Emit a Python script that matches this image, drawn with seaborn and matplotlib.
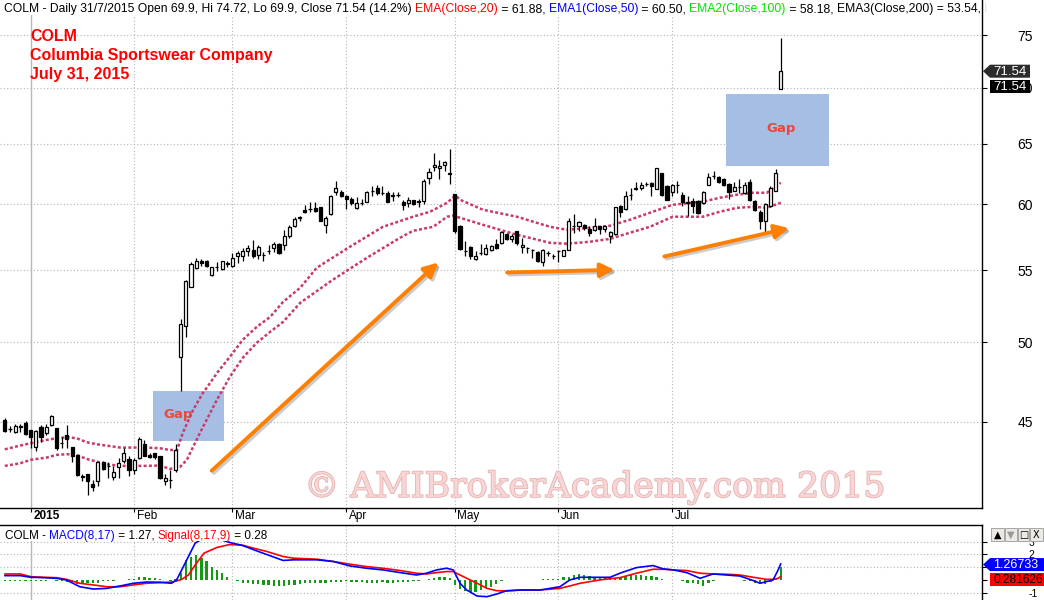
import numpy as np
import pandas as pd
import matplotlib
matplotlib.use("Agg")
import matplotlib.pyplot as plt
import matplotlib.patheffects as pe
from matplotlib.patches import Rectangle, Polygon
from matplotlib.transforms import ScaledTranslation
from matplotlib.ticker import NullLocator
import seaborn as sns

# ---- daily bars: bar 0 = 24 Dec 2014 ... bar 150 = 31 Jul 2015 ----
opens = [45.12, 44.60, 44.42, 44.74, 44.92, 44.53, 43.52, 44.69, 44.33, 44.82,
         44.63, 43.77, 44.23, 43.55, 43.10, 41.88, 42.00, 41.47, 41.64, 42.66,
         42.48, 41.85, 42.42, 42.75, 42.82, 42.22, 42.88, 43.70, 43.08, 43.16,
         43.03, 41.60, 41.68, 42.22, 49.00, 51.11, 53.82, 55.15, 55.70, 55.70,
         54.66, 55.24, 55.08, 55.55, 55.33, 56.05, 56.07, 56.40, 56.50, 56.12,
         56.14, 56.44, 56.62, 56.92, 56.88, 57.50, 58.32, 59.00, 59.57, 59.64,
         59.67, 59.77, 58.40, 59.23, 60.98, 60.98, 60.63, 60.42, 59.70, 60.12,
         60.22, 61.05, 61.30, 60.92, 60.90, 60.76, 60.78, 60.22, 60.10, 60.33,
         60.24, 60.28, 62.12, 63.00, 62.98, 63.22, 62.50, 60.84, 58.34, 56.44,
         56.70, 55.83, 56.27, 56.18, 56.45, 56.92, 57.00, 57.68, 57.33, 57.93,
         56.70, 56.64, 56.47, 56.32, 55.58, 56.27, 56.02, 56.39, 56.07, 56.50,
         58.29, 58.27, 58.40, 58.06, 58.01, 58.27, 58.06, 57.57, 57.68, 59.90,
         59.65, 60.78, 61.23, 61.30, 61.64, 61.71, 61.26, 62.53, 61.43, 60.98,
         61.54, 60.76, 60.10, 60.30, 60.30, 60.10, 61.57, 62.27, 62.20, 62.05,
         61.62, 61.10, 61.37, 60.94, 61.80, 60.30, 59.37, 58.72, 59.87, 61.10,
         69.90]
highs = [45.22, 44.78, 44.88, 44.88, 45.08, 44.53, 44.53, 44.82, 44.88, 45.42,
         44.66, 44.10, 44.82, 43.55, 43.10, 42.00, 42.00, 41.66, 42.70, 42.73,
         42.70, 42.46, 42.88, 43.46, 43.00, 42.88, 44.10, 43.94, 43.20, 43.20,
         43.03, 42.00, 42.22, 43.69, 51.55, 54.30, 55.58, 55.88, 55.80, 55.75,
         55.26, 55.58, 55.68, 55.70, 56.25, 56.42, 56.62, 56.82, 57.25, 56.82,
         56.30, 56.88, 57.05, 57.00, 58.01, 58.40, 59.00, 59.05, 59.96, 60.22,
         60.22, 59.82, 59.05, 60.76, 61.90, 61.17, 60.76, 60.58, 60.58, 60.42,
         61.03, 61.43, 61.52, 61.43, 61.03, 60.98, 60.98, 60.36, 60.58, 60.36,
         60.42, 62.06, 62.95, 64.20, 63.58, 63.55, 64.55, 60.84, 58.40, 57.12,
         56.80, 56.37, 56.92, 56.92, 56.88, 57.33, 57.88, 57.76, 57.68, 57.93,
         57.38, 56.67, 56.55, 56.37, 56.55, 56.37, 56.18, 56.50, 56.50, 58.92,
         59.23, 58.70, 58.45, 58.27, 58.92, 58.34, 58.27, 57.93, 59.82, 59.96,
         61.03, 61.30, 61.76, 61.76, 61.80, 61.76, 62.95, 62.53, 61.52, 61.62,
         61.85, 60.98, 60.68, 60.50, 60.36, 61.03, 62.53, 62.66, 62.31, 62.12,
         61.71, 61.76, 62.05, 61.76, 62.00, 60.36, 59.51, 60.10, 61.50, 62.88,
         74.72]
lows = [44.42, 44.42, 44.33, 44.42, 44.23, 43.46, 43.30, 43.83, 44.23, 44.78,
        43.36, 43.46, 43.46, 42.70, 41.90, 41.60, 40.83, 41.05, 41.33, 42.22,
        41.80, 41.66, 41.80, 42.60, 41.90, 42.00, 42.85, 43.03, 42.88, 42.82,
        41.75, 41.40, 41.23, 42.12, 46.88, 50.37, 53.80, 55.10, 55.30, 55.22,
        54.60, 54.90, 55.02, 55.22, 55.26, 55.51, 55.70, 56.05, 55.88, 55.80,
        55.68, 56.18, 56.30, 56.18, 56.50, 57.40, 58.22, 58.65, 59.33, 59.37,
        59.37, 58.65, 57.76, 59.18, 60.76, 60.57, 59.62, 59.96, 59.65, 59.96,
        60.18, 60.63, 60.76, 60.76, 60.15, 60.28, 60.58, 59.51, 59.82, 59.96,
        59.82, 60.04, 61.62, 62.66, 62.05, 62.66, 61.62, 57.80, 56.45, 56.00,
        55.83, 55.76, 56.12, 56.12, 56.37, 56.55, 56.95, 57.20, 57.07, 56.88,
        56.25, 56.25, 55.92, 55.58, 55.33, 56.07, 55.83, 55.58, 56.00, 56.45,
        57.76, 57.88, 58.01, 57.50, 57.88, 57.70, 57.83, 57.00, 57.62, 59.00,
        59.57, 60.36, 61.17, 61.17, 61.43, 60.63, 61.20, 60.70, 60.36, 60.63,
        60.94, 59.87, 59.10, 59.35, 59.25, 60.02, 61.52, 62.05, 61.71, 61.50,
        60.42, 61.03, 60.90, 60.84, 60.30, 59.44, 58.10, 57.80, 59.82, 61.03,
        69.90]
closes = [44.49, 44.58, 44.76, 44.72, 44.27, 44.10, 44.47, 44.13, 44.69, 45.34,
          43.46, 43.75, 43.98, 43.03, 41.95, 41.86, 41.60, 41.27, 42.66, 42.26,
          42.46, 42.13, 42.60, 43.16, 42.22, 42.80, 43.98, 43.03, 42.95, 42.95,
          41.80, 41.78, 41.66, 43.36, 51.21, 54.23, 55.46, 55.63, 55.52, 55.31,
          55.22, 55.22, 55.63, 55.45, 55.92, 56.25, 56.42, 56.62, 56.00, 56.70,
          56.12, 56.42, 56.92, 56.25, 57.55, 58.22, 58.86, 58.92, 59.39, 59.62,
          59.46, 58.70, 58.92, 60.68, 61.30, 60.63, 60.42, 60.10, 60.10, 60.10,
          60.98, 61.03, 60.90, 60.90, 60.18, 60.63, 60.76, 59.96, 60.36, 60.02,
          60.22, 61.90, 62.61, 63.22, 63.14, 63.45, 62.47, 57.88, 56.55, 56.42,
          56.05, 56.00, 56.25, 56.62, 56.80, 56.62, 57.83, 57.33, 57.57, 57.00,
          56.88, 56.62, 56.45, 55.63, 56.45, 56.25, 56.00, 56.37, 56.50, 58.70,
          58.27, 58.60, 58.15, 57.80, 58.27, 58.06, 58.27, 57.83, 59.78, 59.39,
          60.63, 60.76, 61.30, 61.52, 61.62, 61.43, 62.95, 60.76, 60.36, 61.57,
          61.52, 60.22, 60.22, 59.90, 59.33, 60.98, 62.20, 62.25, 61.76, 61.57,
          60.98, 61.35, 61.35, 61.52, 60.36, 59.57, 58.70, 60.02, 61.30, 62.53,
          71.54]

# the two dotted average lines (upper / lower), sampled along the bars
ema_up_bar = [0, 2.9, 5, 8.1, 10, 12, 13.9, 15.8, 17.8, 19.7, 22.3, 24.8, 27.4, 30, 31.9,
              33.3, 34.4, 36.4, 38.3, 39.7, 41, 43.5, 46, 48.7, 51.3, 53.8, 57.1, 60.3, 66.7,
              73.1, 78.9, 82.2, 85.5, 86.6, 87.2, 88, 92.4, 99, 105.4, 108.7, 113.1, 117,
              120.8, 124.7, 129.1, 134.9, 138.2, 141.5, 144.6, 147.3, 150]
ema_up = [43.40, 43.61, 43.75, 43.94, 44.04, 44.10, 44.04, 43.81, 43.69, 43.61, 43.50,
          43.50, 43.50, 43.46, 43.36, 43.36, 44.35, 45.72, 46.76, 47.38, 48.00, 49.04,
          50.16, 51.02, 51.70, 52.74, 53.73, 55.17, 56.72, 58.24, 59.02, 59.41, 60.12,
          60.52, 60.68, 60.36, 59.57, 59.02, 58.24, 58.01, 58.16, 58.32, 58.78, 59.33,
          59.96, 60.20, 60.52, 60.76, 60.92, 60.92, 61.73]
ema_lo_bar = [0, 2.9, 5, 8.1, 10, 12, 13.9, 15.8, 17.8, 19.7, 22.3, 24.8, 27.4, 30, 31.9,
              33, 33.9, 35.2, 36.4, 38.3, 41, 43.5, 46, 48.7, 51.3, 53.8, 57.1, 63.4, 70,
              76.4, 78.9, 82.8, 85.5, 86.6, 88, 92.4, 99, 105.4, 108.7, 113.1, 117, 120.8,
              124.7, 129.1, 134.9, 138.2, 141.5, 144.6, 147.3, 150]
ema_lo = [42.46, 42.60, 42.80, 42.93, 43.08, 43.12, 43.08, 42.85, 42.70, 42.55, 42.46,
          42.46, 42.46, 42.48, 42.29, 42.35, 42.41, 42.80, 43.54, 44.70, 46.33, 47.76,
          48.98, 49.96, 50.69, 51.36, 52.67, 54.30, 55.90, 57.40, 57.93, 58.24, 59.02,
          59.10, 58.94, 58.40, 57.63, 57.02, 56.95, 57.10, 57.32, 57.78, 58.24, 59.02,
          59.02, 59.41, 59.72, 59.80, 59.72, 60.12]

# MACD(8,17) and signal(9), sampled along the bars; histogram one value per bar
macd_bar = [0, 3, 5, 7.6, 10, 11.9, 14.5, 17.1, 19.7, 22.3, 24.8, 27.4, 30, 32.2, 33.2,
            34.2, 35.5, 36.8, 38.5, 41, 43.5, 46, 48.1, 50.6, 53.8, 55.8, 60.3, 63.5, 66.7,
            69.9, 73.1, 76.4, 79.6, 81.5, 83.5, 85.4, 86.7, 88, 89.3, 91.3, 93.2, 95.1, 97,
            99.6, 103.4, 107.3, 109.2, 111.2, 115, 117, 118.9, 122.1, 125.3, 127.3, 129.2,
            131.8, 134.4, 136.9, 139.5, 142.1, 144.7, 146, 147.2, 148.5, 149.5, 150]
macd_val = [0.34, 0.34, 0.21, 0.18, 0.13, 0.0, -0.53, -0.71, -0.66, -0.47, -0.26, -0.16,
            -0.18, -0.26, 0.0, 0.79, 1.84, 2.89, 3.3, 3.25, 2.94, 2.7, 2.37, 2.0, 1.53, 1.58,
            1.58, 1.45, 1.1, 0.92, 0.79, 0.58, 0.39, 0.53, 0.79, 0.92, 0.79, -0.26, -0.79,
            -1.26, -1.31, -1.1, -0.84, -0.79, -0.79, -0.53, 0.0, 0.21, 0.21, 0.21, 0.53,
            0.97, 1.13, 0.87, 0.79, 0.58, 0.13, 0.47, 0.39, 0.31, -0.05, -0.26, -0.13, 0.0,
            0.79, 1.27]
signal_val = [0.47, 0.47, 0.26, 0.21, 0.18, 0.05, -0.26, -0.39, -0.53, -0.53, -0.39, -0.26,
              -0.21, -0.16, -0.08, 0.05, 0.39, 1.18, 2.1, 2.55, 2.78, 2.72, 2.49, 2.24, 1.84,
              1.71, 1.63, 1.45, 1.24, 1.05, 0.92, 0.74, 0.53, 0.47, 0.58, 0.66, 0.66, 0.39,
              0.13, -0.26, -0.66, -0.84, -0.87, -0.79, -0.79, -0.66, -0.47, -0.26, 0.0, 0.1,
              0.18, 0.53, 0.84, 0.84, 0.79, 0.74, 0.53, 0.47, 0.45, 0.39, 0.21, 0.13, 0.05,
              0.05, 0.13, 0.28]
hist = [-0.05, -0.06, -0.06, -0.08, -0.08, -0.1, -0.06, -0.05, -0.05, -0.04,
        -0.05, -0.1, -0.13, -0.16, -0.3, -0.34, -0.26, -0.26, -0.2, -0.1,
        -0.08, -0.05, -0.03, 0.02, 0.05, 0.1, 0.2, 0.2, 0.18, 0.15,
        0.05, 0.03, -0.05, 0.1, 0.53, 1.53, 1.84, 1.92, 1.71, 1.45,
        1.05, 0.79, 0.58, 0.21, 0.03, -0.1, -0.2, -0.26, -0.3, -0.34,
        -0.36, -0.4, -0.47, -0.5, -0.45, -0.4, -0.36, -0.3, -0.26, -0.26,
        -0.24, -0.2, -0.2, -0.16, -0.15, -0.13, -0.1, -0.13, -0.15, -0.18,
        -0.2, -0.2, -0.2, -0.18, -0.2, -0.2, -0.18, -0.15, -0.13, -0.1,
        -0.05, 0.03, 0.1, 0.18, 0.2, 0.2, 0.15, -0.4, -0.7, -0.87,
        -0.92, -0.92, -0.8, -0.66, -0.53, -0.31, -0.1, 0.0, 0.03, 0.0,
        0.0, 0.0, 0.02, 0.03, 0.04, 0.05, 0.05, 0.05, 0.21, 0.26,
        0.4, 0.47, 0.4, 0.31, 0.26, 0.21, 0.13, 0.1, 0.08, 0.26,
        0.31, 0.37, 0.4, 0.37, 0.33, 0.3, 0.2, 0.08, 0.02, -0.02,
        -0.03, -0.05, -0.2, -0.26, -0.31, -0.47, -0.2, -0.05, 0.02, 0.0,
        -0.03, -0.02, 0.0, -0.05, -0.1, -0.2, -0.34, -0.31, -0.13, 0.05,
        1.0]

month_bars = [5, 25, 44, 66, 87, 107, 129]
month_labels = ["2015", "Feb", "Mar", "Apr", "May", "Jun", "Jul"]
price_ticks = [45, 50, 55, 60, 65, 70, 75]
macd_ticks = [-1, 0, 1, 2, 3]
macd_tick_labels = ["-1", "", "", "2", "3"]   # 0 and 1 sit under the value tags

# ---------------- figure ----------------
W, H = 1044, 600
sns.set_theme(style="white")
plt.rcParams["font.family"] = ["Liberation Sans", "DejaVu Sans"]

fig = plt.figure(figsize=(W / 100, H / 100), dpi=100)
ax = fig.add_axes([0, 92 / H, 982 / W, 508 / H])
axm = fig.add_axes([0, 0, 982 / W, 75 / H])


def fxy(px, py):
    # pixel (from top-left) -> figure fraction
    return px / W, 1 - py / H


GRID = "#b4b4b4"
for a in (ax, axm):
    a.set_facecolor("white")
    a.set_xlim(-0.93, 188.9)
    for s in ("left", "top", "bottom", "right"):
        a.spines[s].set_visible(False)
    a.spines["right"].set_visible(True)
    a.spines["right"].set_color("black")
    a.spines["right"].set_linewidth(1.0)
    for i, b in enumerate(month_bars):
        if i == 0:
            a.axvline(b, color="#b8b8b8", lw=1.0, zorder=0.5)
        else:
            a.axvline(b, color=GRID, lw=0.8, ls=(0, (1, 2)), zorder=0.5)

ax.spines["bottom"].set_visible(True)
ax.spines["bottom"].set_color("black")
ax.spines["bottom"].set_linewidth(1.0)
axm.spines["top"].set_visible(True)
axm.spines["top"].set_color("black")
axm.spines["top"].set_linewidth(1.0)

# ---- price pane ----
ax.set_yscale("log")
ax.set_ylim(40.16, 78.6)
ax.yaxis.tick_right()
ax.set_yticks(price_ticks)
ax.set_yticklabels([str(p) for p in price_ticks])
ax.yaxis.set_minor_locator(NullLocator())
ax.tick_params(axis="y", which="both", right=True, left=False, direction="out",
               length=3.6, width=0.8, color="black", pad=22, labelsize=10, labelcolor="black")
ax.set_xticks(month_bars)
ax.set_xticklabels([])
ax.tick_params(axis="x", bottom=True, direction="out", length=3, width=0.8, color="black")
for p in price_ticks:
    ax.axhline(p, color=GRID, lw=0.8, ls=(0, (1, 2)), zorder=0.5)

# blank strip behind the title line
ax.add_patch(Rectangle((0, 1 - 15 / 508), 1, 15 / 508, transform=ax.transAxes,
                       facecolor="white", edgecolor="none", zorder=0.8))

lab_tr = ax.get_xaxis_transform() + ScaledTranslation(2.5 / 100, -2 / 100, fig.dpi_scale_trans)
for b, lbl in zip(month_bars, month_labels):
    ax.text(b, 0, lbl, transform=lab_tr, ha="left", va="top", fontsize=8.5, color="black",
            fontweight="bold" if lbl == "2015" else "normal")

# gap boxes
BOX = "#a7bee4"
ax.add_patch(Rectangle((28.6, 43.88), 42.4 - 28.6, 46.9 - 43.88, facecolor=BOX,
                       edgecolor="none", zorder=1))
ax.add_patch(Rectangle((139.5, 63.13), 159.3 - 139.5, 69.45 - 63.13, facecolor=BOX,
                       edgecolor="none", zorder=1))
for gx, gy in [(33.5, 45.42), (150.0, 66.3)]:
    ax.text(gx, gy, "Gap", color="#e8483f", fontsize=9.5, fontweight="bold",
            family=["DejaVu Sans"], ha="center", va="center", zorder=1.5)

# dotted averages
EMA_C = "#c83a6c"
sns.lineplot(x=ema_up_bar, y=ema_up, ax=ax, color=EMA_C, lw=1.8,
             linestyle=(0, (1.2, 0.9)), zorder=2)
sns.lineplot(x=ema_lo_bar, y=ema_lo, ax=ax, color=EMA_C, lw=1.8,
             linestyle=(0, (1.2, 0.9)), zorder=2)

# candles
df = pd.DataFrame({"open": opens, "high": highs, "low": lows, "close": closes})
df["bar"] = np.arange(len(df))
up = df["close"] >= df["open"]
ax.vlines(df["bar"], df["low"], df["high"], color="black", lw=0.9, zorder=3)
ax.bar(df["bar"][up], (df["close"] - df["open"])[up], bottom=df["open"][up], width=0.6,
       facecolor="white", edgecolor="black", lw=0.9, zorder=4)
ax.bar(df["bar"][~up], (df["open"] - df["close"])[~up], bottom=df["close"][~up], width=0.6,
       facecolor="black", edgecolor="black", lw=0.9, zorder=4)

# orange trend arrows
shadow = [pe.SimpleLineShadow(offset=(1.5, -1.5), shadow_color="#999999", alpha=0.5), pe.Normal()]
for (x0, y0), (x1, y1) in [((40.0, 42.19), (83.8, 55.56)),
                           ((97.1, 54.83), (117.9, 55.02)),
                           ((127.5, 56.0), (151.6, 58.14))]:
    ax.annotate("", xy=(x1, y1), xytext=(x0, y0), zorder=5,
                arrowprops=dict(arrowstyle="-|>,head_length=0.7,head_width=0.35",
                                color="#ff8000", lw=2.8, shrinkA=0, shrinkB=0,
                                path_effects=shadow))

# watermark
ax.text(0.606, 0.041, "\u00a9 AMIBrokerAcademy.com 2015", transform=ax.transAxes,
        ha="center", va="center", fontsize=25, color="#f7d6d6", family="DejaVu Serif",
        zorder=0.9, path_effects=[pe.withStroke(linewidth=1.2, foreground="#e9b0b0")])

# ---- MACD pane ----
axm.set_ylim(-1.57, 4.31)
axm.yaxis.tick_right()
axm.set_yticks(macd_ticks)
axm.set_yticklabels(macd_tick_labels)
axm.set_xticks([])
axm.tick_params(axis="y", right=True, left=False, direction="out", length=3.6, width=0.8,
                color="black", pad=30, labelsize=7.5, labelcolor="black")
for t in (-1, 1, 2, 3):
    axm.axhline(t, color=GRID, lw=0.8, ls=(0, (1, 2)), zorder=0.5)
axm.bar(np.arange(len(hist)), hist, width=0.45, color="#129a12", lw=0, zorder=2)
sns.lineplot(x=macd_bar, y=signal_val, ax=axm, color="#ff0000", lw=1.2, zorder=3)
sns.lineplot(x=macd_bar, y=macd_val, ax=axm, color="#0000ff", lw=1.2, zorder=4)
for a in (ax, axm):
    a.set_xlabel("")
    a.set_ylabel("")

# ---- texts ----
renderer = fig.canvas.get_renderer()


def segments(px, py, parts, size):
    x = px
    for s, c in parts:
        t = fig.text(*fxy(x, py), s, color=c, fontsize=size, ha="left", va="baseline", zorder=8)
        x += t.get_window_extent(renderer=renderer).width


segments(4, 12, [("COLM - Daily 31/7/2015 Open 69.9, Hi 74.72, Lo 69.9, Close 71.54 (14.2%) ", "black"),
                 ("EMA(Close,20)", "#ff0000"), (" = 61.88, ", "black"),
                 ("EMA1(Close,50)", "#0000ff"), (" = 60.50, ", "black"),
                 ("EMA2(Close,100)", "#00e600"), (" = 58.18, ", "black"),
                 ("EMA3(Close,200) = 53.54, ", "black"), ("I", "#ffd0ea")], 8.7)

for txt, yb in [("COLM", 41), ("Columbia Sportswear Company", 60), ("July 31, 2015", 78.5)]:
    fig.text(*fxy(30, yb), txt, color="#ff0000", fontsize=11.5, fontweight="bold",
             ha="left", va="baseline", zorder=8)

# MACD legend with an opaque background
fig.add_artist(Rectangle(fxy(2, 541), 272 / W, 14 / H, transform=fig.transFigure,
                         facecolor="white", edgecolor="none", zorder=7))
segments(5, 539, [("COLM - ", "black"), ("MACD(8,17)", "#0000ff"), (" = 1.27, ", "black"),
                  ("Signal(8,17,9)", "#ff0000"), (" = 0.28", "black")], 8.5)


def tag(py, text, face, tcolor, x_end, arrow, size=9.5):
    h = 6.5
    if arrow:
        pts = [(983, py), (990, py - h), (x_end, py - h), (x_end, py + h), (990, py + h)]
    else:
        pts = [(990, py - h), (x_end, py - h), (x_end, py + h), (990, py + h)]
    fig.add_artist(Polygon([fxy(*p) for p in pts], closed=True, transform=fig.transFigure,
                           facecolor=face, edgecolor="none", zorder=9))
    fig.text(*fxy(993, py + 0.5), text, color=tcolor, fontsize=size, ha="left",
             va="center", zorder=10)


py_close = H - ax.transData.transform((0, closes[-1]))[1]
tag(py_close, "71.54", "#2c2c2c", "white", 1030, True)
tag(py_close + 15.5, "71.54", "black", "white", 1030, False)
py_macd = H - axm.transData.transform((0, macd_val[-1]))[1]
tag(py_macd + 0.8, "1.26733", "#0000ff", "white", 1044, True, size=9)
tag(py_macd + 15.5, "0.281626", "#ff0000", "black", 1044, False, size=8.6)

# pane buttons
for x0, x1, g, gc in [(991, 1004, "\u25b2", "black"), (1005, 1017, "\u25bc", "#999999"),
                      (1018, 1029, "\u25a1", "black"), (1030, 1043, "X", "black")]:
    fig.add_artist(Rectangle(fxy(x0, 541), (x1 - x0) / W, 13 / H, transform=fig.transFigure,
                             facecolor="#ece9e4", edgecolor="#9a9a9a", lw=0.6, zorder=9))
    fig.text(*fxy((x0 + x1) / 2, 535), g, color=gc, fontsize=7, ha="center", va="center",
             family=["DejaVu Sans"], zorder=10)

fig.savefig("out.png", dpi=100)
